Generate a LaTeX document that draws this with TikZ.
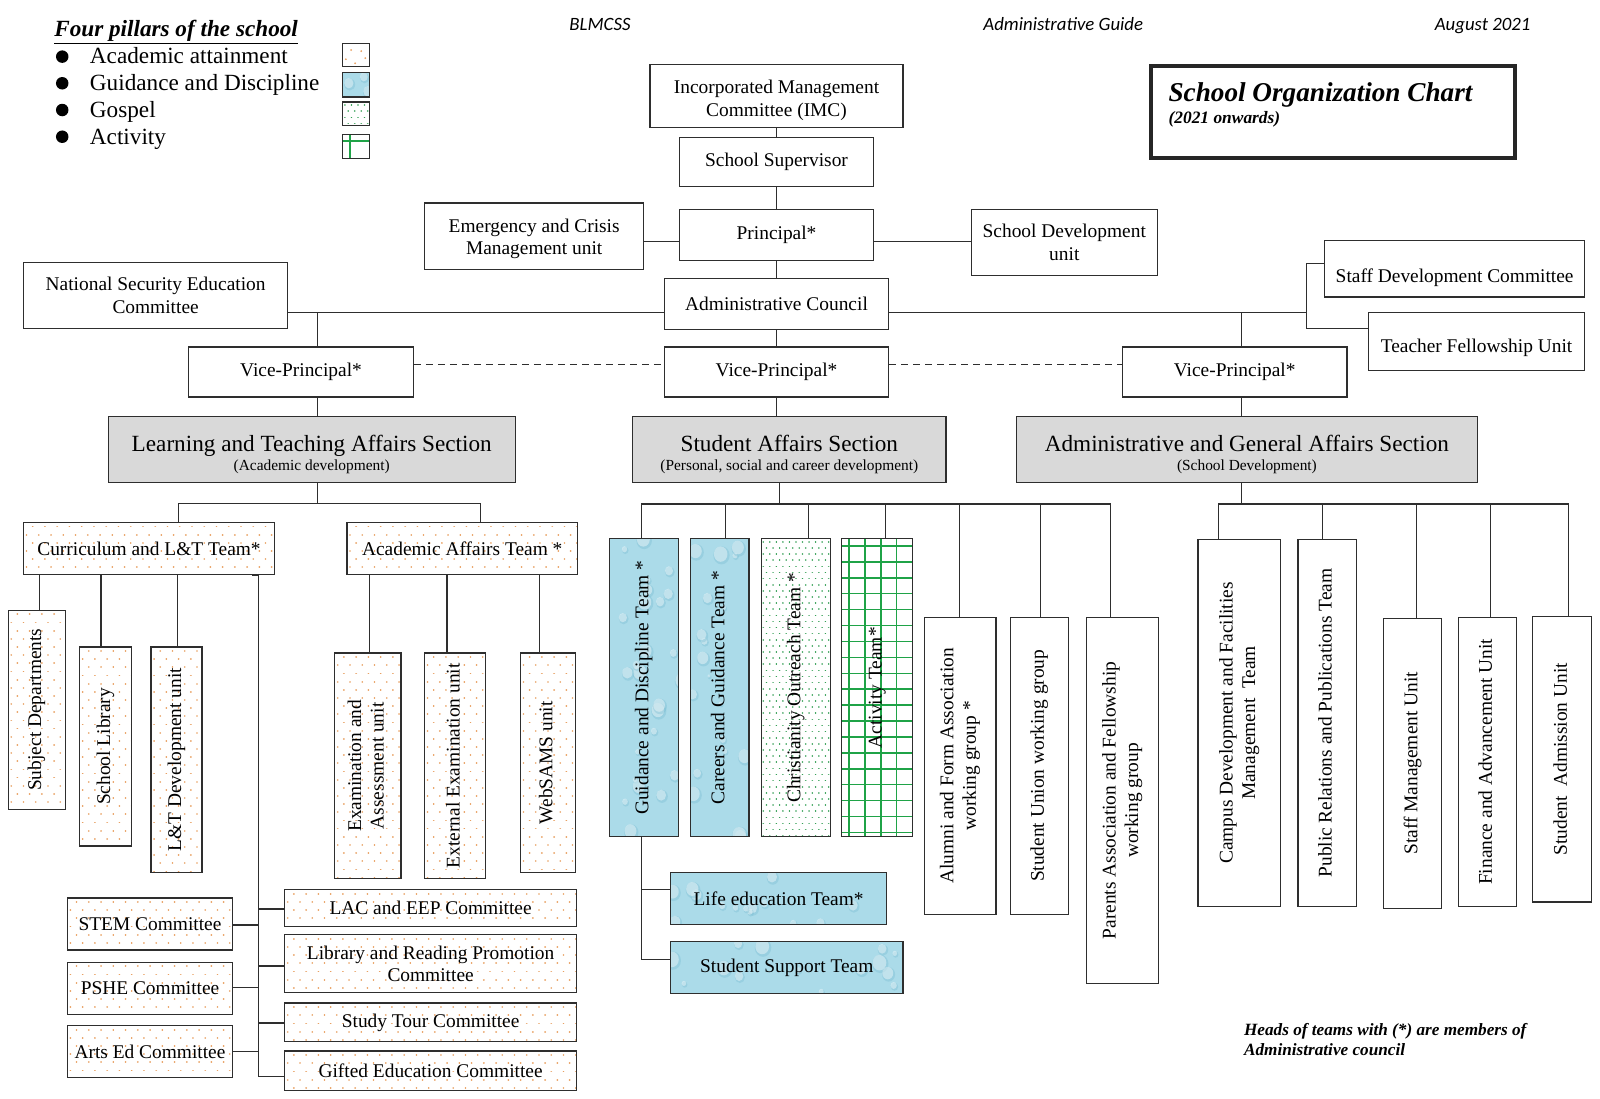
\documentclass[tikz,border=0pt]{standalone}
\usepackage{fontspec}
\usepackage{graphicx}
\setmainfont{Liberation Serif}
\newfontfamily\calib{Carlito}
\usetikzlibrary{calc}
\definecolor{ln}{HTML}{2E2E2E}
\definecolor{secgray}{HTML}{D9D9D9}
\definecolor{odot}{HTML}{E9A061}
\definecolor{gdot}{HTML}{35A055}
\definecolor{ggrid}{HTML}{1FA347}
\definecolor{wblue}{HTML}{ABDBE9}
\definecolor{wdark}{HTML}{6DB6CD}
\newcommand\boxfont{\fontsize{19.4}{22.5}\selectfont}
\newcommand\secfont{\fontsize{23.2}{26}\selectfont}
\newcommand\subfont{\fontsize{15.4}{17}\selectfont}
\newcommand\legfont{\fontsize{23.2}{26}\selectfont}
\newcommand\hdfont{\calib\itshape\fontsize{18.8}{21}\selectfont}
\newcommand\vt[1]{\rotatebox{90}{\begin{tabular}{@{}c@{}}#1\end{tabular}}}
\newcommand\dn[2]{\raisebox{-#1}[0pt][0pt]{\begin{tabular}{@{}c@{}}#2\end{tabular}}}
\newcommand\sectxt[2]{\raisebox{-12pt}[0pt][0pt]{\begin{tabular}{@{}c@{}}{\secfont #1}\\[-3pt]{\subfont #2}\end{tabular}}}
% pattern fillers (coordinates relative to the box's top-left corner, y downwards)
\newcommand\Podots{\fill[white] (-5,-5) rectangle (310,310);
  \foreach \j in {0,...,28}{\draw[odot,line width=1.8pt,line cap=round,dash pattern=on 0.01pt off 12.245pt] ({-3+6*mod(\j,2)},{\j*8+4}) -- ++(300,0);}}
\newcommand\Pgdots{\fill[white] (-5,-5) rectangle (310,310);
  \foreach \j in {0,...,49}{\draw[gdot,line width=1.6pt,line cap=round,dash pattern=on 0.01pt off 6.53pt] ({2+3.2*mod(\j,2)},{\j*6+3}) -- ++(80,0);}}
\newcommand\Pgrid{\fill[white] (-5,-5) rectangle (310,310);
  \draw[ggrid,line width=1.5pt]
  \foreach \i in {0,...,5}{({7+\i*15.6},-5) -- ++(0,310)}
  \foreach \j in {0,...,19}{(-5,{7+\j*15.6}) -- ++(90,0)};}
\newcommand\Pblue{\fill[wblue] (-5,-5) rectangle (310,310);
  \foreach \k in {1,...,70}{%
    \pgfmathsetmacro\ddx{rnd*240}%
    \pgfmathsetmacro\ddy{rnd*300}%
    \pgfmathsetmacro\ddr{2+rnd*7}%
    \fill[wdark,opacity=0.3] ({\ddx+0.8},{\ddy+1.2}) ellipse ({\ddr*0.9} and {\ddr});
    \fill[white,opacity=0.4] (\ddx,\ddy) ellipse ({\ddr*0.75} and {\ddr*0.85});
  }}
\newcommand\Psw{\fill[white] (-5,-5) rectangle (40,40);
  \fill[odot] (8,6) circle (1pt) (18,7) circle (1pt) (3,15) circle (1pt) (22,14) circle (1pt) (12,19) circle (1pt);}
\newcommand\Pswg{\fill[white] (-5,-5) rectangle (40,40);
  \draw[ggrid,line width=1.5pt] (7,-2) -- (7,30) (-2,6) -- (30,6);}
\newcommand\bn[7]{%
  \pgfmathsetmacro\bnX{(#3+#5)/2}%
  \pgfmathsetmacro\bnY{(#4+#6)/2}%
  \pgfmathsetmacro\bnW{(#5-#3)*1.0204}%
  \pgfmathsetmacro\bnH{(#6-#4)*1.0204}%
  \node[#1,minimum width=\bnW pt,minimum height=\bnH pt] (#2) at (\bnX,\bnY) {#7};}
\newcommand\patbox[8]{%
  \begin{scope}
    \clip (#4,#5) rectangle (#6,#7);
    \begin{scope}[shift={(#4,#5)}]#1\end{scope}
  \end{scope}
  \bn{#2}{#3}{#4}{#5}{#6}{#7}{#8}}
\begin{document}
\begin{tikzpicture}[x=1.0204pt,y=-1.0204pt,
  box/.style={draw=ln,line width=1.2pt,fill=white,inner sep=1pt,align=center,font=\boxfont},
  sect/.style={box,fill=secgray},
  pbox/.style={box,fill=none},
  conn/.style={draw=ln,line width=1.2pt},
  dconn/.style={conn,dash pattern=on 7pt off 5pt},
  txt/.style={inner sep=0pt}]
\pgfmathsetseed{42}
\useasboundingbox (0,0) rectangle (1568,1077);
\fill[white] (0,0) rectangle (1568,1077);

% header
\node[txt,font=\hdfont,anchor=base] (hd1) at (588,30) {BLMCSS};
\node[txt,font=\hdfont,anchor=base] (hd2) at (1042,30) {Administrative Guide};
\node[txt,font=\hdfont,anchor=base] (hd3) at (1453,30) {August 2021};

% legend
\node[txt,font=\legfont\bfseries\itshape,anchor=base west] (legt) at (53,36) {\underline{Four pillars of the school}};
\foreach \yy/\nm/\lt in {55.5/1/Academic attainment,81.6/2/Guidance and Discipline,107.8/3/Gospel,134/4/Activity}{
  \node[circle,fill=black,inner sep=0pt,minimum size=12.5pt] (bul\nm) at (61,\yy) {};
  \node[txt,font=\legfont,anchor=base west] (lg\nm) at (88,\yy+7.2) {\lt};
}
\patbox{\Psw}{pbox}{leg1}{336}{43}{362}{65}{}
\patbox{\Pblue}{pbox}{leg2}{336}{71}{362}{95}{}
\patbox{\Pgdots}{pbox}{leg3}{336}{100}{362}{123}{}
\patbox{\Pswg}{pbox}{leg4}{336}{132}{362}{155}{}

% title
\bn{box,draw=black!85,line width=4pt}{tbox}{1128}{65}{1485}{155}{}
\node[txt,font=\fontsize{27.2}{30}\selectfont\bfseries\itshape,anchor=base west] (ttl) at (1145,99.6) {School Organization Chart};
\node[txt,font=\fontsize{17.4}{19}\selectfont\bfseries\itshape,anchor=base west] (ttl2) at (1145,120.6) {(2021 onwards)};

% top boxes
\bn{box}{imc}{637}{63}{885}{125}{\dn{10pt}{Incorporated Management\\Committee (IMC)}}
\bn{box}{sup}{666}{135}{856}{183}{School Supervisor}
\bn{box}{prin}{666}{205}{856}{255}{Principal*}
\bn{box}{emer}{416}{199}{631}{264}{\dn{8pt}{Emergency and Crisis\\Management unit}}
\bn{box}{sdu}{952}{205}{1134}{270}{School Development\\unit}
\bn{box}{admin}{651}{273}{871}{323}{Administrative Council}
\bn{box}{natsec}{23}{257}{282}{322}{National Security Education\\Committee}
\bn{box}{sdc}{1298}{236}{1553}{291}{\dn{14pt}{Staff Development Committee}}
\bn{box}{tfu}{1341}{306}{1553}{363}{\dn{12pt}{Teacher Fellowship Unit}}
\bn{box}{vpl}{185}{340}{405}{389}{Vice-Principal*}
\bn{box}{vpc}{651}{340}{871}{389}{Vice-Principal*}
\bn{box}{vpr}{1100}{340}{1320}{389}{Vice-Principal*}

% sections
\bn{sect}{lta}{106}{408}{505}{473}{\sectxt{Learning and Teaching Affairs Section}{(Academic development)}}
\bn{sect}{sas}{620}{408}{927}{473}{\sectxt{Student Affairs Section}{(Personal, social and career development)}}
\bn{sect}{aga}{996}{408}{1448}{473}{\sectxt{Administrative and General Affairs Section}{(School Development)}}

% learning and teaching
\patbox{\Podots}{pbox}{curr}{23}{512}{269}{563}{Curriculum and L\&T Team*}
\patbox{\Podots}{pbox}{aat}{340}{512}{566}{563}{Academic Affairs Team *}
\patbox{\Podots}{pbox}{subj}{8}{598}{64}{793}{\vt{Subject Departments}}
\patbox{\Podots}{pbox}{slib}{78}{634}{129}{829}{\vt{School Library}}
\patbox{\Podots}{pbox}{ltdev}{148}{634}{198}{855}{\vt{L\&T Development unit}}
\patbox{\Podots}{pbox}{exam}{328}{640}{393}{861}{\vt{Examination and\\Assessment unit}}
\patbox{\Podots}{pbox}{extx}{416}{640}{476}{861}{\vt{External Examination unit}}
\patbox{\Podots}{pbox}{web}{510}{640}{564}{855}{\vt{WebSAMS unit}}
\patbox{\Podots}{pbox}{stem}{66}{880}{228}{931}{STEM Committee}
\patbox{\Podots}{pbox}{pshe}{66}{943}{228}{994}{PSHE Committee}
\patbox{\Podots}{pbox}{arts}{66}{1005}{228}{1056}{Arts Ed Committee}
\patbox{\Podots}{pbox}{lac}{279}{872}{565}{908}{LAC and EEP Committee}
\patbox{\Podots}{pbox}{lrp}{279}{916}{565}{973}{Library and Reading Promotion\\Committee}
\patbox{\Podots}{pbox}{stour}{279}{983}{565}{1021}{Study Tour Committee}
\patbox{\Podots}{pbox}{gifted}{279}{1030}{565}{1069}{Gifted Education Committee}

% student affairs
\patbox{\Pblue}{pbox}{gd}{597}{528}{665}{820}{\vt{Guidance and Discipline Team *}}
\patbox{\Pblue}{pbox}{car}{677}{528}{734}{820}{\vt{Careers and Guidance Team *}}
\patbox{\Pgdots}{pbox}{chr}{746}{528}{814}{820}{\vt{Christianity Outreach Team *}}
\patbox{\Pgrid}{pbox}{act}{825}{528}{894}{820}{\vt{Activity Team*}}
\patbox{\Pblue}{pbox}{life}{657}{855}{869}{906}{Life education Team*}
\patbox{\Pblue}{pbox}{ssup}{657}{923}{885}{974}{Student Support Team}
\bn{box}{alum}{906}{605}{976}{896}{\vt{Alumni and Form Association\\working group *}}
\bn{box}{stu}{990}{605}{1047}{896}{\vt{Student Union working group}}
\bn{box}{par}{1065}{605}{1135}{964}{\vt{Parents Association and Fellowship\\working group}}

% administrative and general affairs
\bn{box}{camp}{1174}{529}{1255}{888}{\vt{Campus Development and Facilities\\Management\ \ Team}}
\bn{box}{pr}{1272}{529}{1329}{888}{\vt{Public Relations and Publications Team}}
\bn{box}{smu}{1356}{606}{1413}{890}{\vt{Staff Management Unit}}
\bn{box}{fau}{1429}{605}{1486}{888}{\vt{Finance and Advancement Unit}}
\bn{box}{sau}{1502}{604}{1560}{884}{\vt{Student\ \ Admission Unit}}

% footnote
\node[txt,font=\fontsize{17.2}{20}\selectfont\bfseries\itshape,align=left,anchor=west] (foot) at (1219,1019) {Heads of teams with (*) are members of\\Administrative council};

% ---------- connectors ----------
\draw[conn] (imc.south) -- (sup.north);
\draw[conn] (sup.south) -- (prin.north);
\draw[conn] (prin.south) -- (admin.north);
\draw[conn] (emer.east |- 0,237) -- (prin.west |- 0,237);
\draw[conn] (prin.east |- 0,237) -- (sdu.west |- 0,237);

\coordinate (bt) at (1280,258);
\coordinate (bb) at (1280,322);
\coordinate (bm) at (1280,306);
\coordinate (lx) at (311,306);
\coordinate (rx) at (1217,306);
\draw[conn] (natsec.east |- 0,306) -- (admin.west |- 0,306);
\draw[conn] (admin.east |- 0,306) -- (bm);
\draw[conn] (sdc.west |- bt) -- (bt) -- (bb) -- (tfu.west |- bb);
\draw[conn] (lx) -- (vpl.north -| lx);
\draw[conn] (rx) -- (vpr.north -| rx);
\draw[conn] (admin.south) -- (vpc.north);
\draw[dconn] (vpl.east |- 0,357) -- (vpc.west |- 0,357);
\draw[dconn] (vpc.east |- 0,357) -- (vpr.west |- 0,357);
\draw[conn] (vpl.south -| lx) -- (lta.north -| lx);
\draw[conn] (vpc.south) -- (sas.north -| vpc.south);
\draw[conn] (vpr.south -| rx) -- (aga.north -| rx);

% learning and teaching comb
\coordinate (lh) at (311,494);
\draw[conn] (lta.south -| lh) -- (lh);
\draw[conn] (curr.north -| 175,0) -- ++(0,-18) -| (aat.north -| 471,0);
\draw[conn] (curr.south -| 39,0) -- (subj.north -| 39,0);
\draw[conn] (curr.south -| 99,0) -- (slib.north -| 99,0);
\draw[conn] (curr.south -| 174,0) -- (ltdev.north -| 174,0);
\draw[conn] (aat.south -| 362,0) -- (exam.north -| 362,0);
\draw[conn] (aat.south -| 438,0) -- (extx.north -| 438,0);
\draw[conn] (aat.south -| 529,0) -- (web.north -| 529,0);
\coordinate (vx) at (253,0);
\draw[conn] (curr.south -| 247,0) -- (curr.south -| vx) -- (vx |- 0,1055);
\draw[conn] (vx |- 0,890.8) -- (lac.west |- 0,890.8);
\draw[conn] (vx |- 0,946.7) -- (lrp.west |- 0,946.7);
\draw[conn] (vx |- 0,1002.6) -- (stour.west |- 0,1002.6);
\draw[conn] (vx |- 0,1055) -- (gifted.west |- 0,1055);
\draw[conn] (vx |- 0,906.5) -- (stem.east |- 0,906.5);
\draw[conn] (vx |- 0,968) -- (pshe.east |- 0,968);
\draw[conn] (vx |- 0,1030.6) -- (arts.east |- 0,1030.6);

% student affairs comb
\coordinate (sj0) at (764,494);
\coordinate (sj1) at (629,494);
\coordinate (sj2) at (711,494);
\coordinate (sj3) at (792,494);
\coordinate (sj4) at (868,494);
\coordinate (sj5) at (940,494);
\coordinate (sj6) at (1020,494);
\coordinate (sj7) at (1088,494);
\draw[conn] (sas.south -| sj0) -- (sj0);
\draw[conn] (gd.north -| sj1) -- (sj1) -- (sj7) -- (par.north -| sj7);
\draw[conn] (sj2) -- (car.north -| sj2);
\draw[conn] (sj3) -- (chr.north -| sj3);
\draw[conn] (sj4) -- (act.north -| sj4);
\draw[conn] (sj5) -- (alum.north -| sj5);
\draw[conn] (sj6) -- (stu.north -| sj6);
\coordinate (gj1) at (629,872);
\coordinate (gj2) at (629,940);
\draw[conn] (gd.south -| gj1) -- (gj2) -- (ssup.west |- gj2);
\draw[conn] (gj1) -- (life.west |- gj1);

% administrative comb
\coordinate (aj0) at (1217,494);
\coordinate (aj1) at (1194,494);
\coordinate (aj2) at (1296,494);
\coordinate (aj3) at (1388,494);
\coordinate (aj4) at (1461,494);
\coordinate (aj5) at (1537,494);
\draw[conn] (aga.south -| aj0) -- (aj0);
\draw[conn] (camp.north -| aj1) -- (aj1) -- (aj5) -- (sau.north -| aj5);
\draw[conn] (aj2) -- (pr.north -| aj2);
\draw[conn] (aj3) -- (smu.north -| aj3);
\draw[conn] (aj4) -- (fau.north -| aj4);
\end{tikzpicture}
\end{document}
